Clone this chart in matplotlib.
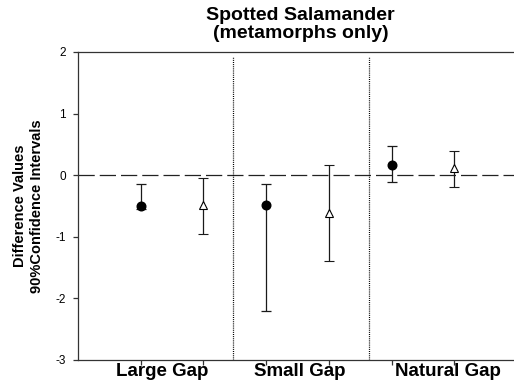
import matplotlib
matplotlib.use("Agg")
import matplotlib.pyplot as plt
import numpy as np

plt.rcParams['font.family'] = ['Liberation Sans', 'DejaVu Sans']

# Group labels and their data
groups = ["Large Gap", "Small Gap", "Natural Gap"]

# Filled circles: estimate with 90% confidence bounds
circle_mean = [-0.50, -0.49, 0.17]
circle_low = [-0.55, -2.21, -0.11]
circle_high = [-0.15, -0.15, 0.48]

# Open triangles: estimate with 90% confidence bounds
tri_mean = [-0.48, -0.61, 0.12]
tri_low = [-0.95, -1.40, -0.19]
tri_high = [-0.04, 0.17, 0.40]

yticks = [-3, -2, -1, 0, 1, 2]

W, H = 514, 389
fig = plt.figure(figsize=(W / 100, H / 100), dpi=100)
ax = fig.add_axes([78 / W, (H - 360) / H, (517 - 78) / W, (360 - 52) / H])

xc = np.arange(len(groups)) * 2.0
xt = xc + 1.0

cm = np.array(circle_mean)
ax.errorbar(xc, cm, yerr=[cm - np.array(circle_low), np.array(circle_high) - cm],
            fmt='o', color='black', ecolor='#1a1a1a', elinewidth=0.9,
            capsize=3.6, capthick=0.9, markersize=6.2, zorder=3)
tm = np.array(tri_mean)
ax.errorbar(xt, tm, yerr=[tm - np.array(tri_low), np.array(tri_high) - tm],
            fmt='^', color='black', ecolor='#1a1a1a', elinewidth=0.9,
            markerfacecolor='white', markeredgecolor='black', markeredgewidth=0.8,
            capsize=3.6, capthick=0.9, markersize=5.5, zorder=3)

# zero reference line
ax.axhline(0, color='#222222', lw=0.9, dashes=(13, 4), zorder=1)

# dotted separators between groups
ax.vlines([1.47, 3.64], -3, 1.92, colors='black', linestyles=(0, (0.8, 0.9)), lw=0.9)

ax.set_xlim(-1, 6)
ax.set_ylim(-3, 2)
ax.set_yticks(yticks)
ax.set_yticklabels([str(v) for v in yticks], fontsize=8.5)
ax.set_xticks(np.concatenate([xc, xt]))
ax.set_xticklabels([])
ax.tick_params(axis='both', direction='out', length=3.6, width=0.9, color='#333333', pad=5)
for side in ['left', 'bottom', 'top']:
    ax.spines[side].set_linewidth(0.9)
    ax.spines[side].set_color('#333333')
ax.spines['right'].set_visible(False)

# group labels under the axis
for lbl, px in zip(groups, [161.7, 300.0, 447.7]):
    fig.text(px / W, 1 - 372 / H, lbl, ha='center', va='center',
             fontsize=13.5, fontweight='bold')

fig.text(300.7 / W, 1 - 15 / H, "Spotted Salamander", ha='center', va='center',
         fontsize=14, fontweight='bold')
fig.text(300.7 / W, 1 - 33 / H, "(metamorphs only)", ha='center', va='center',
         fontsize=14, fontweight='bold')

fig.text(20 / W, 1 - 206 / H, "Difference Values", rotation=90, ha='center', va='center',
         fontsize=10.5, fontweight='bold')
fig.text(37 / W, 1 - 206 / H, "90%Confidence Intervals", rotation=90, ha='center', va='center',
         fontsize=10.5, fontweight='bold')

fig.savefig("out.png", dpi=100)
